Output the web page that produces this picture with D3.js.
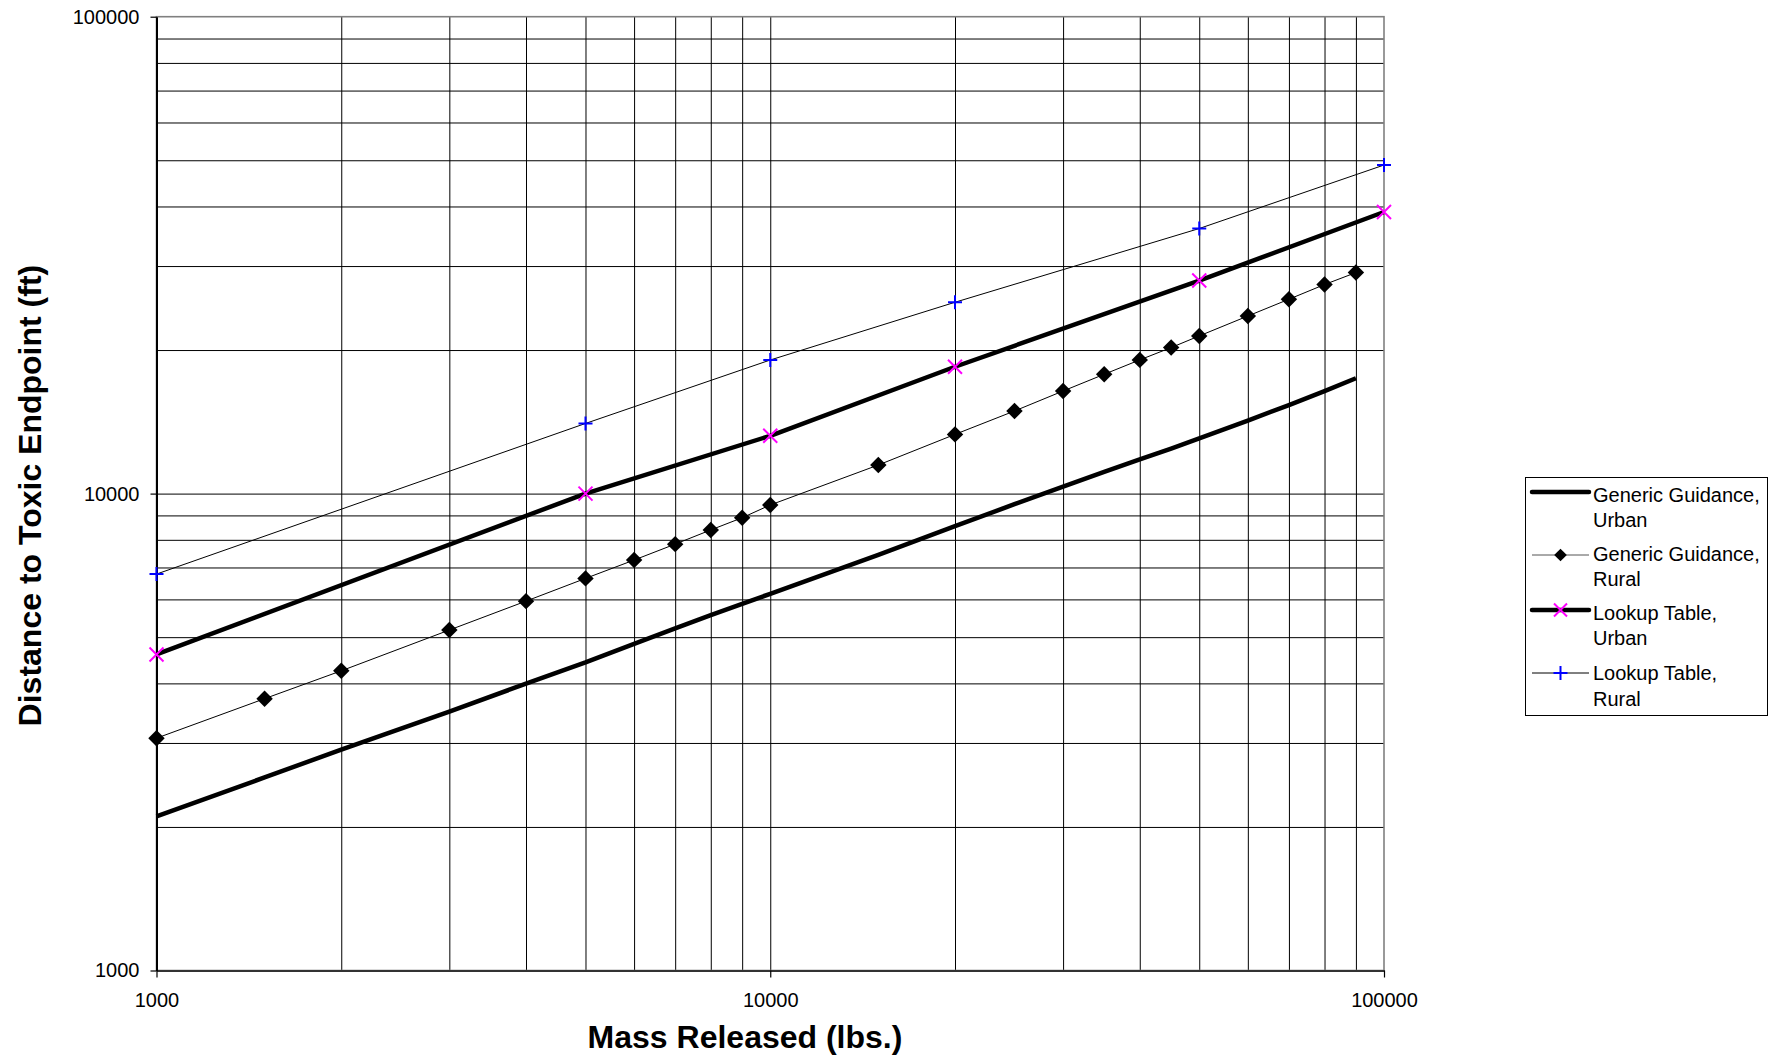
<!DOCTYPE html>
<html>
<head>
<meta charset="utf-8">
<script src="https://cdn.jsdelivr.net/npm/d3@7"></script>
<style>
  html, body { margin: 0; padding: 0; background: #fff; }
  svg { display: block; font-family: Arial, "Liberation Sans", sans-serif; }
</style>
</head>
<body>
<svg id="chart" width="1775" height="1061"></svg>
<script>
// ---- data ----
const xGeneric = [1000,1500,2000,3000,4000,5000,6000,7000,8000,9000,10000,15000,20000,25000,30000,35000,40000,45000,50000,60000,70000,80000,90000];
const genericUrban = [2105,2540,2905,3490,3995,4425,4840,5215,5560,5870,6165,7440,8545,9500,10340,11100,11790,12430,13050,14230,15330,16400,17450];
const genericRural = [3070,3715,4250,5175,5950,6640,7255,7835,8390,8900,9465,11480,13310,14900,16410,17790,19070,20240,21410,23570,25560,27440,29070];
const xLookup = [1000,5000,10000,20000,50000,100000];
const lookupUrban = [4600,10000,13220,18450,27970,38950];
const lookupRural = [6780,14030,19060,25190,35960,48860];
const majorTicks = [1000,10000,100000];
const minorGrid = [2000,3000,4000,5000,6000,7000,8000,9000,10000,20000,30000,40000,50000,60000,70000,80000,90000];
const legendLabels = [["Generic Guidance,","Urban"],["Generic Guidance,","Rural"],["Lookup Table,","Urban"],["Lookup Table,","Rural"]];
const xTitle = "Mass Released (lbs.)";
const yTitle = "Distance to Toxic Endpoint (ft)";

// ---- layout ----
const L = 156.5, R = 1384, T = 16.7, B = 970.5;
const svg = d3.select("#chart");
const x = d3.scaleLog().domain([1000,100000]).range([L, R]);
const y = d3.scaleLog().domain([1000,100000]).range([B, T]);

// gridlines
const grid = svg.append("g");
grid.append("g").attr("transform", `translate(0,${B})`)
  .call(d3.axisBottom(x).tickValues(minorGrid).tickSize(-(B - T)).tickFormat(""))
  .call(g => g.select(".domain").remove())
  .call(g => g.selectAll("line").attr("stroke", "#000").attr("stroke-width", 1));
grid.append("g").attr("transform", `translate(${L},0)`)
  .call(d3.axisLeft(y).tickValues(minorGrid).tickSize(-(R - L)).tickFormat(""))
  .call(g => g.select(".domain").remove())
  .call(g => g.selectAll("line").attr("stroke", "#000").attr("stroke-width", 1));

// plot frame
svg.append("rect").attr("x", L).attr("y", T).attr("width", R - L).attr("height", B - T)
  .attr("fill", "none").attr("stroke", "#808080").attr("stroke-width", 1.6);

// axes
const xAxis = svg.append("g").attr("transform", `translate(0,${B})`)
  .call(d3.axisBottom(x).tickValues(majorTicks).tickSize(7).tickPadding(15).tickFormat(d3.format("d")).tickSizeOuter(0));
xAxis.select(".domain").attr("stroke", "#333").attr("stroke-width", 2);
xAxis.selectAll("line").attr("stroke", "#000").attr("stroke-width", 1.2);
xAxis.selectAll("text").attr("font-size", 20).attr("fill", "#000").attr("font-family", "Arial, 'Liberation Sans', sans-serif");

const yAxis = svg.append("g").attr("transform", `translate(${L},0)`)
  .call(d3.axisLeft(y).tickValues(majorTicks).tickSize(6).tickPadding(11).tickFormat(d3.format("d")).tickSizeOuter(0));
yAxis.select(".domain").attr("stroke", "#000").attr("stroke-width", 2);
yAxis.selectAll("line").attr("stroke", "#000").attr("stroke-width", 1.2);
yAxis.selectAll("text").attr("font-size", 20).attr("fill", "#000").attr("font-family", "Arial, 'Liberation Sans', sans-serif");

// titles
svg.append("text").attr("x", 745).attr("y", 1047.5).attr("text-anchor", "middle")
  .attr("font-size", 32).attr("font-weight", "bold").text(xTitle);
svg.append("text").attr("transform", `translate(41,${(T + B) / 2 + 2}) rotate(-90)`)
  .attr("text-anchor", "middle").attr("font-size", 32).attr("font-weight", "bold").text(yTitle);

// series
const line = d3.line().x(d => x(d[0])).y(d => y(d[1]));
const zip = (a, b) => a.map((v, i) => [v, b[i]]);
const plot = svg.append("g");

plot.append("path").datum(zip(xGeneric, genericUrban)).attr("d", line)
  .attr("fill", "none").attr("stroke", "#000").attr("stroke-width", 4.5).attr("stroke-linejoin", "round");
plot.append("path").datum(zip(xGeneric, genericRural)).attr("d", line)
  .attr("fill", "none").attr("stroke", "#000").attr("stroke-width", 1);
plot.append("path").datum(zip(xLookup, lookupUrban)).attr("d", line)
  .attr("fill", "none").attr("stroke", "#000").attr("stroke-width", 4.5).attr("stroke-linejoin", "round");
plot.append("path").datum(zip(xLookup, lookupRural)).attr("d", line)
  .attr("fill", "none").attr("stroke", "#000").attr("stroke-width", 1);

function drawDiamond(g, cx, cy, s) {
  g.append("path").attr("d", d3.symbol().type(d3.symbolSquare).size(s)())
    .attr("transform", `translate(${cx},${cy}) rotate(45)`).attr("fill", "#000");
}
function drawPlus(g, cx, cy, r) {
  g.append("path").attr("d", `M${cx - r},${cy}H${cx + r}M${cx},${cy - r}V${cy + r}`)
    .attr("stroke", "#0000ff").attr("stroke-width", 2).attr("fill", "none");
}
function drawCross(g, cx, cy, r) {
  g.append("path").attr("d", `M${cx - r},${cy - r}L${cx + r},${cy + r}M${cx - r},${cy + r}L${cx + r},${cy - r}`)
    .attr("stroke", "#ff00ff").attr("stroke-width", 2).attr("fill", "none");
}
zip(xGeneric, genericRural).forEach(d => drawDiamond(plot, x(d[0]), y(d[1]), 135));
zip(xLookup, lookupUrban).forEach(d => drawCross(plot, x(d[0]), y(d[1]), 7));
zip(xLookup, lookupRural).forEach(d => drawPlus(plot, x(d[0]), y(d[1]), 7));

// legend
const lg = svg.append("g");
lg.append("rect").attr("x", 1525.5).attr("y", 477.5).attr("width", 242).attr("height", 238)
  .attr("fill", "#fff").attr("stroke", "#000").attr("stroke-width", 1);
const lineY = [492, 555, 610, 673];
const textY = [501.5, 560.5, 619.5, 680];
const x0 = 1532, x1 = 1589, xm = 1560.5;
lineY.forEach((ly, i) => {
  const thick = (i === 0 || i === 2);
  lg.append("line").attr("x1", x0).attr("x2", x1).attr("y1", ly).attr("y2", ly)
    .attr("stroke", thick ? "#000" : (i === 1 ? "#555" : "#000"))
    .attr("stroke-width", thick ? 4.5 : 1).attr("stroke-linecap", thick ? "round" : "butt");
  if (i === 1) drawDiamond(lg, xm, ly, 80);
  if (i === 2) drawCross(lg, xm, ly, 6.5);
  if (i === 3) drawPlus(lg, xm, ly, 7);
  const t = lg.append("text").attr("x", 1593).attr("y", textY[i]).attr("font-size", 20).attr("fill", "#000");
  t.append("tspan").attr("x", 1593).text(legendLabels[i][0]);
  t.append("tspan").attr("x", 1593).attr("dy", 25.5).text(legendLabels[i][1]);
});
</script>
</body>
</html>
